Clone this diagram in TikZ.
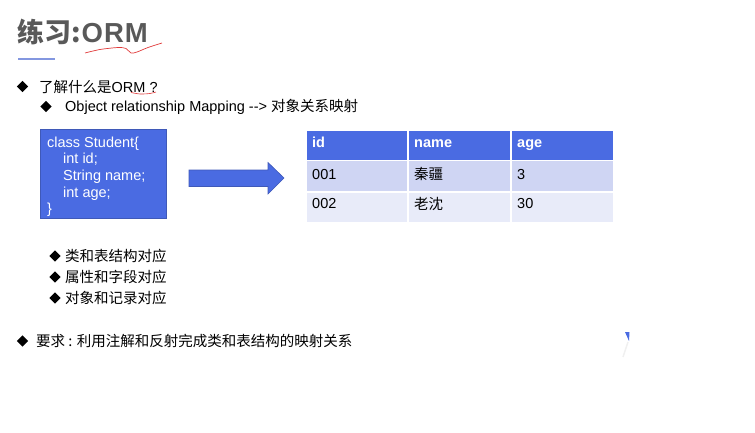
\documentclass[tikz,border=0pt]{standalone}
\usepackage{fontspec}
\setmainfont[Ligatures=NoCommon]{Liberation Sans}
\newfontfamily\cjk{Noto Sans CJK SC}
\usetikzlibrary{shapes.geometric}

\definecolor{slideblue}{HTML}{4A6BE2}
\definecolor{boxedge}{HTML}{3F59B8}
\definecolor{rowone}{HTML}{CFD5F3}
\definecolor{rowtwo}{HTML}{E8EBF9}
\definecolor{titlegray}{HTML}{595959}
\definecolor{titleline}{HTML}{8397E0}
\definecolor{squiggle}{HTML}{E03A3A}

\newcommand{\bodysize}{\fontsize{14.5}{17}\selectfont}

\begin{document}
\begin{tikzpicture}[x=1pt,y=-1pt,
  txt/.style={anchor=base west, inner sep=0pt, font=\bodysize},
  bul/.style={diamond, shape aspect=1, fill=black, inner sep=0pt, minimum size=11.5pt},
  codeline/.style={anchor=base west, inner sep=0pt, text=white, font=\bodysize},
  cell/.style={anchor=north west, inner sep=0pt, draw=white, line width=1.5pt},
  celltext/.style={anchor=base west, inner sep=0pt, font=\bodysize},
  headtext/.style={anchor=base west, inner sep=0pt, text=white, font=\bodysize\bfseries},
  wavy/.style={draw=squiggle, line width=0.7pt}
]
\useasboundingbox (0,0) rectangle (755,433);

% heading
\node[anchor=base west, inner sep=0pt, text=titlegray] (title) at (17,43)
  {{\cjk\bfseries\fontsize{27}{27}\selectfont 练习:}\kern1pt{\bfseries\fontsize{27.5}{27}\selectfont O\kern1pt R\kern1pt M}};
\draw[titleline, line width=2.2pt] (18,59) -- (55,59);
\draw[wavy] plot[smooth] coordinates {(85,53) (100,49.5) (118,47.5) (126,48.5) (131,53) (137,52) (148,47.5) (162,43)};

% first bullet
\node[bul] (b1) at (22.5,86.5) {};
\node[txt] (l1) at (39,92.5) {{\cjk 了解什么是}ORM ?};
\draw[wavy, line width=0.6pt] plot[smooth] coordinates {(131,92.5) (140,94) (150,93.5) (156,92)};

\node[bul] (b2) at (46,106.5) {};
\node[txt] (l2) at (65,111.5) {Object relationship Mapping -{}-{}> {\cjk 对象关系映射}};

% class definition box
\node[anchor=north west, fill=slideblue, draw=boxedge, line width=0.8pt,
      minimum width=126pt, minimum height=89pt, inner sep=0pt] (classbox) at (40,129) {};
\node[codeline] (c1) at (47,147.5) {class Student\{};
\node[codeline] (c2) at (63,164) {int id;};
\node[codeline] (c3) at (63,180.5) {String name;};
\node[codeline] (c4) at (63,197) {int age;};
\node[codeline] (c5) at (47,213.5) {\}};

% mapping arrow
\fill[slideblue, draw=boxedge, line width=0.6pt]
  (189,170) -- (268,170) -- (268,162.5) -- (284,178) -- (268,194) -- (268,186.5) -- (189,186.5) -- cycle;

% table
\node[cell, fill=slideblue, minimum width=102pt, minimum height=30pt] (h1) at (305,130) {};
\node[cell, fill=slideblue, minimum width=103pt, minimum height=30pt] (h2) at (407,130) {};
\node[cell, fill=slideblue, minimum width=103pt, minimum height=30pt] (h3) at (510,130) {};
\node[cell, fill=rowone, minimum width=102pt, minimum height=31pt] (r11) at (305,160) {};
\node[cell, fill=rowone, minimum width=103pt, minimum height=31pt] (r12) at (407,160) {};
\node[cell, fill=rowone, minimum width=103pt, minimum height=31pt] (r13) at (510,160) {};
\node[cell, fill=rowtwo, minimum width=102pt, minimum height=31pt] (r21) at (305,191) {};
\node[cell, fill=rowtwo, minimum width=103pt, minimum height=31pt] (r22) at (407,191) {};
\node[cell, fill=rowtwo, minimum width=103pt, minimum height=31pt] (r23) at (510,191) {};

\node[headtext] (t11) at (312,147) {id};
\node[headtext] (t12) at (414,147) {name};
\node[headtext] (t13) at (517,147) {age};
\node[celltext] (t21) at (312,179) {001};
\node[celltext] (t22) at (414,179.5) {\cjk 秦疆};
\node[celltext] (t23) at (517,179) {3};
\node[celltext] (t31) at (312,208.5) {002};
\node[celltext] (t32) at (414,209) {\cjk 老沈};
\node[celltext] (t33) at (517,208.5) {30};

% correspondences
\node[bul] (b3) at (55,256) {};
\node[txt] (l3) at (65,261.5) {\cjk 类和表结构对应};
\node[bul] (b4) at (55,277) {};
\node[txt] (l4) at (65,282.5) {\cjk 属性和字段对应};
\node[bul] (b5) at (55,298) {};
\node[txt] (l5) at (65,303.5) {\cjk 对象和记录对应};

% requirement
\node[bul] (b6) at (22.5,341) {};
\node[txt] (l6) at (36,346) {\cjk 要求 : 利用注解和反射完成类和表结构的映射关系};

% small mark at the right
\fill[slideblue] (625,332) -- (629.5,332) -- (629,341) -- cycle;
\draw[black!6, line width=1.5pt] (628,342) -- (623,357);
\end{tikzpicture}
\end{document}
